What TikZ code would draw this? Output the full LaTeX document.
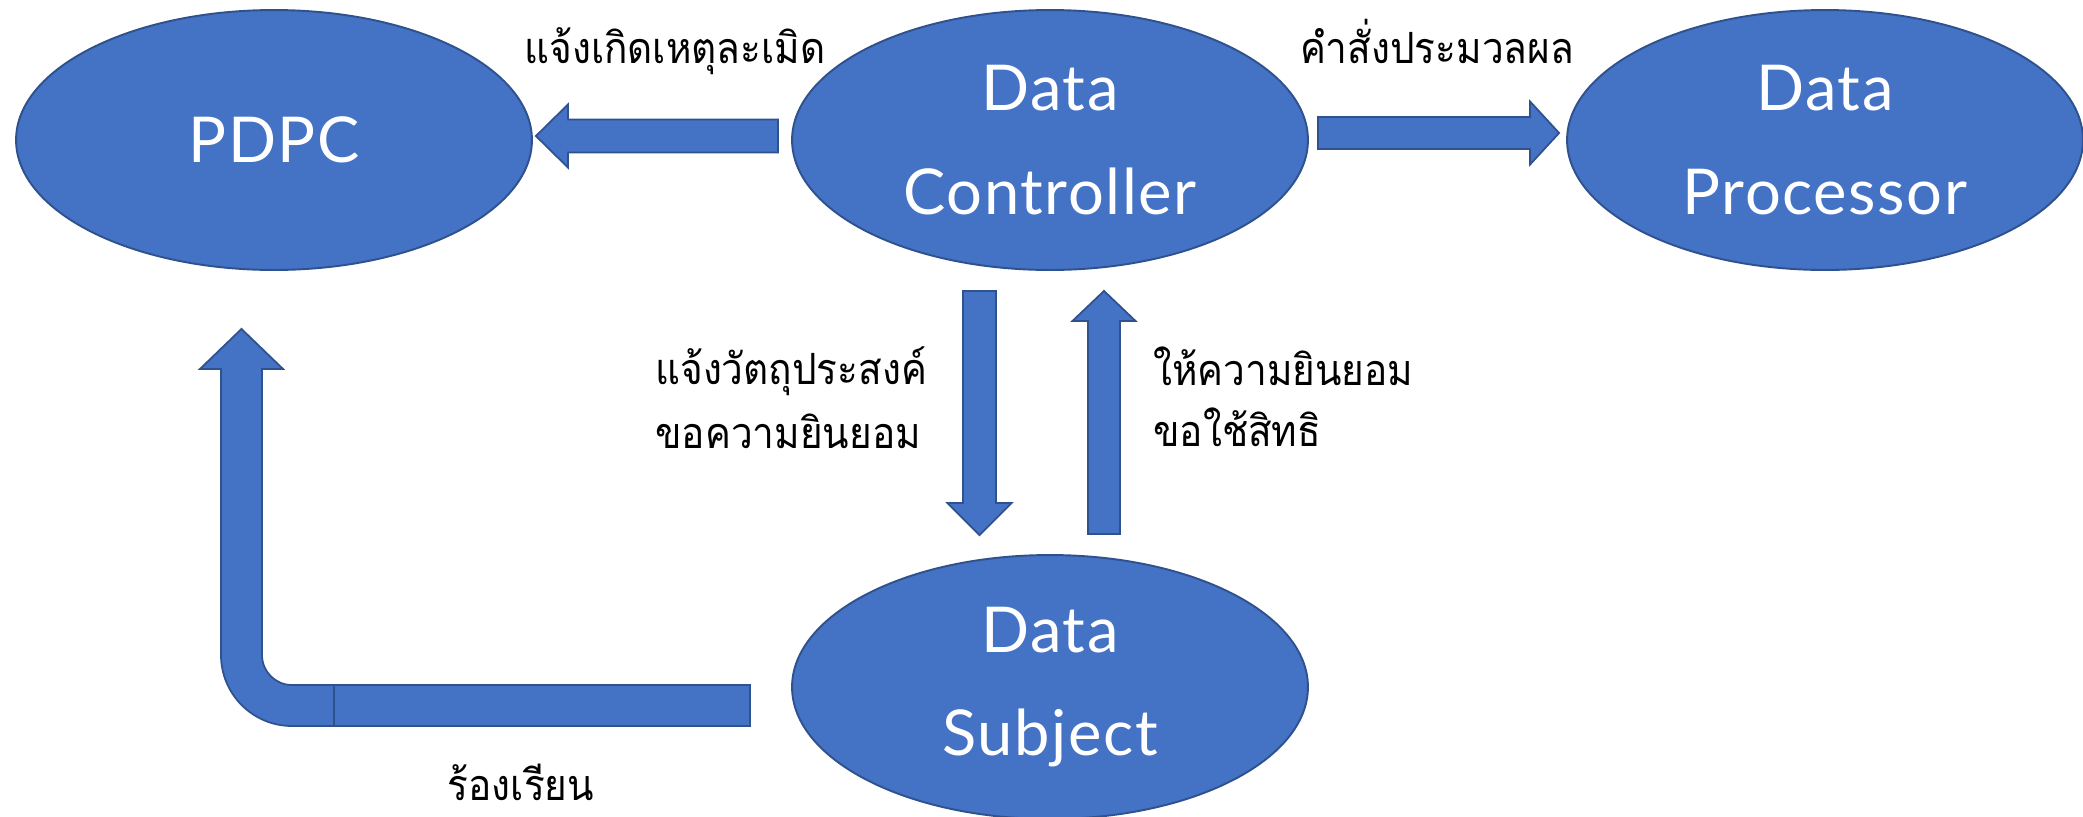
\documentclass[tikz,border=0pt]{standalone}
\usepackage{fontspec}
\usetikzlibrary{calc,shapes.geometric}
\newfontfamily\latinfont[LetterSpace=2.5]{Lato}
\newfontfamily\thaifont[Script=Thai,FakeStretch=0.9]{Loma}
\definecolor{offblue}{HTML}{4472C4}
\definecolor{offedge}{HTML}{2F528F}
\newcommand{\blockarrow}[5]{%
  \coordinate (bah) at ($(#2)!#5!(#1)$);
  \draw[barrow] ($(#1)!#3!90:(#2)$) -- ($(bah)!#3!90:(#2)$) -- ($(bah)!#4!90:(#2)$) -- (#2)
    -- ($(bah)!#4!-90:(#2)$) -- ($(bah)!#3!-90:(#2)$) -- ($(#1)!#3!-90:(#2)$) -- cycle;
}
\begin{document}
\begin{tikzpicture}[x=0.02cm,y=-0.02cm,
  ell/.style={ellipse, draw=offedge, line width=1.1pt, fill=offblue,
    minimum width=10.32cm, minimum height=5.2cm, text=white,
    font=\latinfont\fontsize{36}{59}\selectfont, align=center, inner sep=0pt},
  barrow/.style={draw=offedge, fill=offblue, line width=1pt, line join=miter},
  seam/.style={draw=offedge, line width=1pt},
  lbl/.style={font=\thaifont\fontsize{24.5}{30}\selectfont, text=black, inner sep=0pt}
]
\useasboundingbox (0,0) rectangle (2083,816);

\node[ell] (pdpc) at (274,140) {PDPC};
\node[ell] (ctrl) at (1050,140) {Data\\Controller};
\node[ell] (proc) at (1825,140) {Data\\Processor};
\node[ell, minimum height=5.28cm] (subj) at (1050,687) {Data\\Subject};

% Controller -> PDPC
\coordinate (a1s) at ($(ctrl.west)+(-13,-4)$);
\coordinate (a1e) at ($(pdpc.east)+(3,-4)$);
\blockarrow{a1s}{a1e}{0.33cm}{0.63cm}{0.64cm}
% Controller -> Processor
\coordinate (a2s) at ($(ctrl.east)+(9,-7)$);
\coordinate (a2e) at ($(proc.west)+(-7,-7)$);
\blockarrow{a2s}{a2e}{0.32cm}{0.63cm}{0.58cm}
% Controller -> Subject
\coordinate (a3s) at ($(ctrl.south)+(-70.5,20)$);
\coordinate (a3e) at ($(subj.north)+(-70.5,-19)$);
\blockarrow{a3s}{a3e}{0.33cm}{0.64cm}{0.64cm}
% Subject -> Controller
\coordinate (a4s) at ($(subj.north)+(54,-20)$);
\coordinate (a4e) at ($(ctrl.south)+(54,20)$);
\blockarrow{a4s}{a4e}{0.32cm}{0.63cm}{0.6cm}

% Subject -> PDPC (bent)
\coordinate (bs) at ($(subj.west)+(-41,18.5)$);
\coordinate (bt) at ($(pdpc.south)+(-32.5,58)$);
\coordinate (bc) at (bt |- bs);
\draw[barrow] ($(bs)+(0,-20.5)$) -- ($(bc)+(50.5,-20.5)$)
  .. controls ($(bc)+(33.9,-20.5)$) and ($(bc)+(20.5,-33.9)$) .. ($(bc)+(20.5,-50.5)$)
  -- ($(bt)+(20.5,40)$) -- ($(bt)+(41.5,40)$) -- (bt) -- ($(bt)+(-41.5,40)$) -- ($(bt)+(-20.5,40)$)
  -- ($(bc)+(-20.5,-50.5)$)
  .. controls ($(bc)+(-20.5,-11.3)$) and ($(bc)+(11.3,20.5)$) .. ($(bc)+(50.5,20.5)$)
  -- ($(bs)+(0,20.5)$) -- cycle;
\draw[seam] ($(bc)+(92.5,-20.5)$) -- ($(bc)+(92.5,20.5)$);

% labels
\node[lbl, anchor=base] (l1) at (675,63) {แจ้งเกิดเหตุละเมิด};
\node[lbl, anchor=base] (l2) at (1437,63) {คำสั่งประมวลผล};
\node[lbl, anchor=base west] (l3) at (655,384) {แจ้งวัตถุประสงค์};
\node[lbl, anchor=base west] (l4) at (655,448) {ขอความยินยอม};
\node[lbl, anchor=base west] (l5) at (1153,385) {ให้ความยินยอม};
\node[lbl, anchor=base west] (l6) at (1153,446) {ขอใช้สิทธิ};
\node[lbl, anchor=base, text depth=0pt] (l7) at (521,800) {ร้องเรียน};
\end{tikzpicture}
\end{document}
